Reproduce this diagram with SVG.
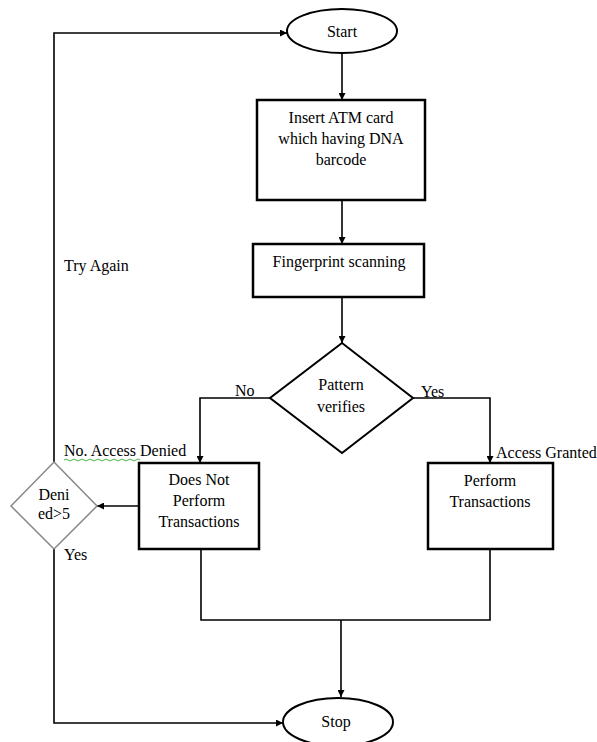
<svg xmlns="http://www.w3.org/2000/svg" width="597" height="742" viewBox="0 0 597 742">
<style>
text{font-family:"Liberation Serif","Times New Roman",serif;font-size:16px;fill:#000}
.c{text-anchor:middle}
.box{fill:#fff;stroke:#000;stroke-width:2.5}
.term{fill:#fff;stroke:#000;stroke-width:2}
.ln{fill:none;stroke:#000;stroke-width:1.6}
</style>
<defs>
<marker id="ah" viewBox="0 0 10 10" refX="10" refY="5" markerWidth="7" markerHeight="7" markerUnits="userSpaceOnUse" orient="auto">
<path d="M0,0 L10,5 L0,10 z" fill="#000"/>
</marker>
</defs>
<rect width="597" height="742" fill="#fff"/>
<g id="connectors">
<path class="ln" d="M342,54 V100" marker-end="url(#ah)"/>
<path class="ln" d="M342,200 V244" marker-end="url(#ah)"/>
<path class="ln" d="M342,297 V343" marker-end="url(#ah)"/>
<path class="ln" d="M270,398 H200 V463" marker-end="url(#ah)"/>
<path class="ln" d="M413,398 H490 V463" marker-end="url(#ah)"/>
<path class="ln" d="M139,506 H97" marker-end="url(#ah)"/>
<path class="ln" d="M54,462 V33 H287" marker-end="url(#ah)"/>
<path class="ln" d="M54,549 V723 H283" marker-end="url(#ah)"/>
<path class="ln" d="M201,549 V620 H490 V549"/>
<path class="ln" d="M341,620 V697" marker-end="url(#ah)"/>
<path d="M64,460 q2,-2 4,0 t4,0 t4,0 t4,0 t4,0 t4,0 t4,0 t4,0 t4,0 t4,0 t4,0 t4,0 t4,0 t4,0 t4,0 t4,0 t4,0 t4,0 t4,0" fill="none" stroke="#3a3" stroke-width="0.9"/>
<text x="235" y="396">No</text>
<text x="421" y="397">Yes</text>
<text x="64" y="456">No. Access Denied</text>
<text x="496" y="458">Access Granted</text>
<text x="64" y="271">Try Again</text>
<text x="64" y="560">Yes</text>
</g>
<g id="start">
<ellipse class="term" cx="342" cy="31" rx="55" ry="22"/>
<text class="c" x="342" y="37">Start</text>
</g>
<g id="insert">
<rect class="box" x="257" y="100" width="168" height="100"/>
<text class="c" x="341" y="123">Insert ATM card</text>
<text class="c" x="341" y="144">which having DNA</text>
<text class="c" x="341" y="165">barcode</text>
</g>
<g id="fingerprint">
<rect class="box" x="253" y="244" width="171" height="53"/>
<text class="c" x="339" y="267">Fingerprint scanning</text>
</g>
<g id="pattern">
<path class="term" d="M342,343 L413,398 L342,453 L270,398 Z"/>
<text class="c" x="341" y="390">Pattern</text>
<text class="c" x="341" y="412">verifies</text>
</g>
<g id="notperform">
<rect class="box" x="139" y="463" width="120" height="86"/>
<text class="c" x="199" y="485">Does Not</text>
<text class="c" x="199" y="506">Perform</text>
<text class="c" x="199" y="527">Transactions</text>
</g>
<g id="denied">
<path d="M54,462 L97,506 L54,549 L11,506 Z" fill="#fff" stroke="#888" stroke-width="1.5"/>
<text class="c" x="54" y="500">Deni</text>
<text class="c" x="54" y="519">ed&gt;5</text>
</g>
<g id="perform">
<rect class="box" x="428" y="463" width="125" height="86"/>
<text class="c" x="490" y="486">Perform</text>
<text class="c" x="490" y="507">Transactions</text>
</g>
<g id="stop">
<ellipse class="term" cx="338" cy="722" rx="55" ry="24"/>
<text class="c" x="336" y="727">Stop</text>
</g>
</svg>
